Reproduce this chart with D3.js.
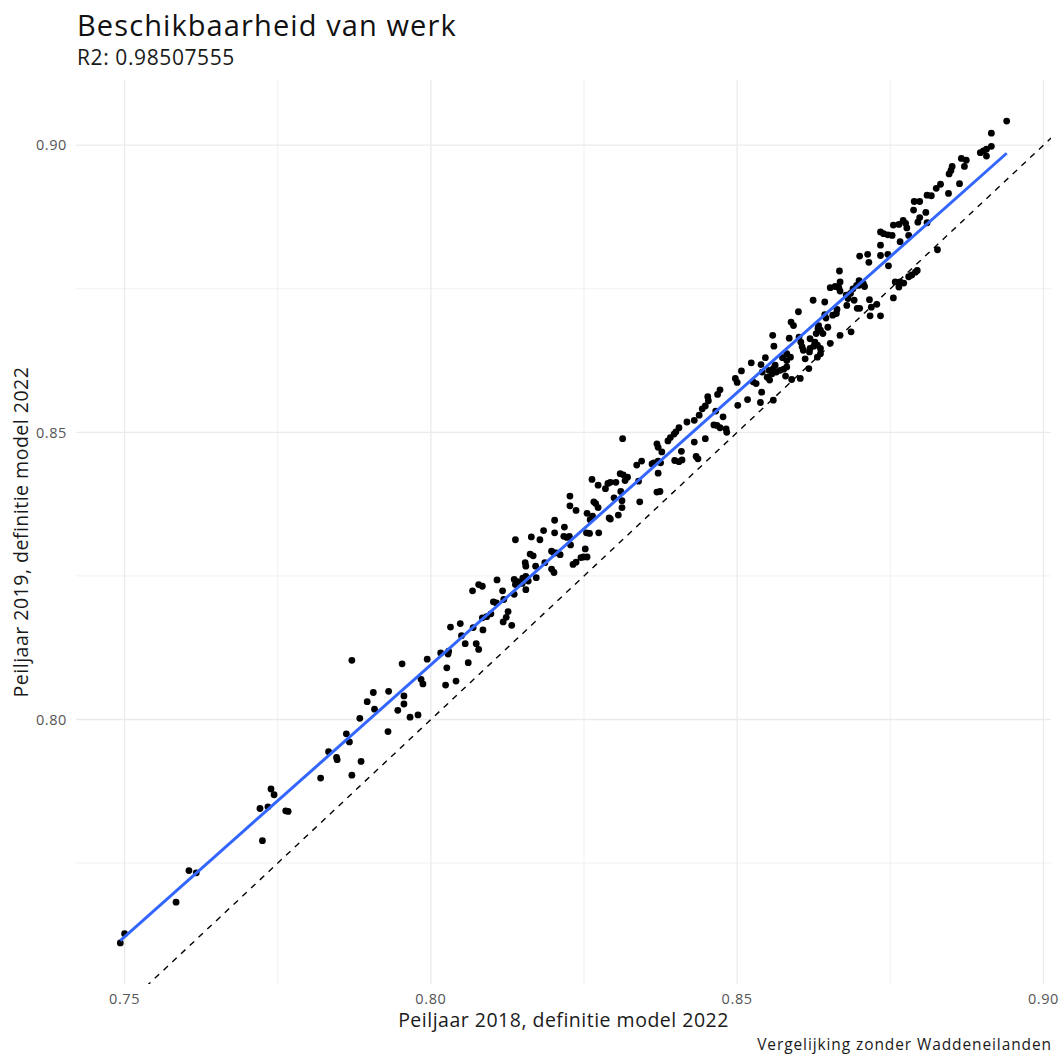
<!DOCTYPE html>
<html>
<head>
<meta charset="utf-8">
<script src="https://cdn.jsdelivr.net/npm/d3@7"></script>
<style>
  body { margin: 0; background: #fff; }
  text { font-family: "Open Sans", "DejaVu Sans", sans-serif; }
</style>
</head>
<body>
<svg id="chart" width="1062" height="1055"></svg>
<script>
// Peiljaar 2018 (x) en Peiljaar 2019 (y), definitie model 2022
const peil2018 = [
  0.7493,0.7500,0.7584,0.7605,0.7617,0.7725,0.7721,0.7734,0.7739,0.7744,
  0.7763,0.7767,0.7820,0.7833,0.7846,0.7847,0.7862,0.7867,0.7871,0.7886,
  0.7884,0.7871,0.7896,0.7906,0.7908,0.7930,0.7931,0.7946,0.7956,0.7956,
  0.7966,0.7979,0.7953,0.7984,0.7987,0.7994,0.8016,0.8028,0.8029,0.8026,
  0.8024,0.8041,0.8032,0.8048,0.8050,0.8056,0.8061,0.8069,0.8074,0.8078,
  0.8085,0.8084,0.8091,0.8098,0.8068,0.8078,0.8084,0.8108,0.8117,0.8102,
  0.8107,0.8119,0.8126,0.8123,0.8118,0.8132,0.8136,0.8141,0.8138,0.8150,
  0.8155,0.8159,0.8149,0.8172,0.8155,0.8136,0.8154,0.8155,0.8162,0.8167,
  0.8171,0.8186,0.8138,0.8164,0.8178,0.8184,0.8202,0.8202,0.8218,0.8217,
  0.8222,0.8226,0.8197,0.8201,0.8205,0.8211,0.8228,0.8197,0.8201,0.8232,
  0.8237,0.8227,0.8237,0.8227,0.8245,0.8249,0.8255,0.8252,0.8254,0.8259,
  0.8274,0.8255,0.8260,0.8264,0.8266,0.8269,0.8273,0.8263,0.8273,0.8285,
  0.8289,0.8293,0.8302,0.8299,0.8291,0.8293,0.8306,0.8312,0.8312,0.8310,
  0.8317,0.8321,0.8309,0.8314,0.8313,0.8339,0.8336,0.8344,0.8341,0.8361,
  0.8364,0.8371,0.8375,0.8371,0.8369,0.8374,0.8369,0.8371,0.8377,0.8387,
  0.8391,0.8397,0.8400,0.8405,0.8409,0.8410,0.8398,0.8405,0.8430,0.8433,
  0.8436,0.8418,0.8430,0.8438,0.8443,0.8448,0.8453,0.8452,0.8465,0.8462,
  0.8467,0.8472,0.8482,0.8483,0.8477,0.8468,0.8472,0.8448,0.8497,0.8500,
  0.8507,0.8501,0.8517,0.8526,0.8531,0.8538,0.8540,0.8523,0.8539,0.8546,
  0.8560,0.8552,0.8557,0.8564,0.8570,0.8576,0.8581,0.8581,0.8587,0.8559,
  0.8579,0.8541,0.8553,0.8549,0.8559,0.8562,0.8558,0.8574,0.8581,0.8588,
  0.8592,0.8600,0.8585,0.8601,0.8604,0.8606,0.8608,0.8589,0.8603,0.8617,
  0.8611,0.8618,0.8619,0.8625,0.8627,0.8619,0.8629,0.8632,0.8633,0.8636,
  0.8640,0.8631,0.8636,0.8624,0.8643,0.8645,0.8631,0.8636,0.8643,0.8648,
  0.8652,0.8668,0.8662,0.8663,0.8652,0.8660,0.8666,0.8668,0.8679,0.8681,
  0.8686,0.8691,0.8696,0.8678,0.8685,0.8656,0.8668,0.8667,0.8689,0.8695,
  0.8699,0.8706,0.8708,0.8700,0.8716,0.8719,0.8728,0.8734,0.8717,0.8700,
  0.8713,0.8715,0.8699,0.8734,0.8739,0.8746,0.8753,0.8734,0.8734,0.8746,
  0.8747,0.8755,0.8764,0.8771,0.8775,0.8777,0.8780,0.8766,0.8758,0.8766,
  0.8772,0.8755,0.8764,0.8780,0.8785,0.8791,0.8794,0.8788,0.8789,0.8798,
  0.8808,0.8795,0.8798,0.8810,0.8940,0.8915,0.8915,0.8897,0.8902,0.8907,
  0.8907,0.8866,0.8874,0.8871,0.8851,0.8849,0.8846,0.8863,0.8832,0.8825,
  0.8845,0.8810,0.8817,0.8827
];
const peil2019 = [
  0.7611,0.7627,0.7682,0.7737,0.7733,0.7789,0.7845,0.7848,0.7879,0.7869,
  0.7841,0.7840,0.7898,0.7944,0.7934,0.7930,0.7975,0.7961,0.7903,0.7927,
  0.8002,0.8103,0.8031,0.8047,0.8018,0.7979,0.8049,0.8016,0.8041,0.8027,
  0.8004,0.8008,0.8097,0.8070,0.8062,0.8105,0.8116,0.8114,0.8119,0.8090,
  0.8060,0.8067,0.8161,0.8167,0.8146,0.8132,0.8099,0.8160,0.8132,0.8122,
  0.8156,0.8177,0.8179,0.8184,0.8224,0.8235,0.8232,0.8243,0.8224,0.8205,
  0.8203,0.8209,0.8188,0.8178,0.8170,0.8164,0.8244,0.8240,0.8235,0.8246,
  0.8249,0.8241,0.8237,0.8247,0.8226,0.8218,0.8273,0.8267,0.8288,0.8285,
  0.8267,0.8273,0.8313,0.8318,0.8313,0.8329,0.8325,0.8347,0.8335,0.8319,
  0.8317,0.8319,0.8293,0.8290,0.8290,0.8287,0.8304,0.8262,0.8256,0.8270,
  0.8274,0.8372,0.8364,0.8389,0.8282,0.8283,0.8283,0.8297,0.8325,0.8324,
  0.8325,0.8359,0.8348,0.8354,0.8379,0.8376,0.8369,0.8418,0.8408,0.8402,
  0.8411,0.8413,0.8413,0.8386,0.8351,0.8349,0.8356,0.8369,0.8381,0.8397,
  0.8416,0.8422,0.8428,0.8426,0.8489,0.8415,0.8443,0.8450,0.8379,0.8445,
  0.8447,0.8450,0.8447,0.8429,0.8396,0.8397,0.8480,0.8474,0.8466,0.8485,
  0.8491,0.8497,0.8501,0.8508,0.8467,0.8452,0.8451,0.8449,0.8483,0.8458,
  0.8454,0.8518,0.8521,0.8530,0.8541,0.8546,0.8555,0.8562,0.8537,0.8513,
  0.8512,0.8508,0.8506,0.8500,0.8527,0.8566,0.8574,0.8489,0.8594,0.8587,
  0.8607,0.8547,0.8557,0.8588,0.8585,0.8552,0.8570,0.8621,0.8618,0.8630,
  0.8650,0.8608,0.8602,0.8605,0.8608,0.8610,0.8614,0.8625,0.8631,0.8556,
  0.8598,0.8605,0.8591,0.8596,0.8611,0.8617,0.8669,0.8630,0.8637,0.8692,
  0.8686,0.8710,0.8664,0.8666,0.8657,0.8649,0.8643,0.8592,0.8594,0.8611,
  0.8628,0.8640,0.8646,0.8650,0.8657,0.8663,0.8672,0.8681,0.8686,0.8678,
  0.8672,0.8652,0.8646,0.8730,0.8705,0.8699,0.8631,0.8637,0.8727,0.8683,
  0.8655,0.8669,0.8707,0.8714,0.8752,0.8754,0.8752,0.8762,0.8721,0.8733,
  0.8675,0.8730,0.8716,0.8739,0.8742,0.8704,0.8746,0.8781,0.8750,0.8756,
  0.8756,0.8759,0.8754,0.8716,0.8731,0.8718,0.8723,0.8703,0.8703,0.8807,
  0.8810,0.8796,0.8764,0.8849,0.8846,0.8844,0.8843,0.8826,0.8808,0.8810,
  0.8790,0.8861,0.8862,0.8869,0.8864,0.8856,0.8843,0.8832,0.8762,0.8762,
  0.8760,0.8734,0.8753,0.8771,0.8774,0.8779,0.8782,0.8887,0.8902,0.8902,
  0.8883,0.8866,0.8874,0.8865,0.9042,0.9021,0.8998,0.8987,0.8990,0.8993,
  0.8981,0.8977,0.8974,0.8963,0.8963,0.8956,0.8950,0.8933,0.8932,0.8925,
  0.8916,0.8913,0.8912,0.8818
];

const fitX = [0.7493, 0.8940];
const fitY = [0.7615, 0.8986];

const xTicks = [0.75, 0.80, 0.85, 0.90];
const yTicks = [0.80, 0.85, 0.90];
const xMinor = [0.775, 0.825, 0.875];
const yMinor = [0.775, 0.825, 0.875];

const titleText = "Beschikbaarheid van werk";
const subtitleText = "R2: 0.98507555";
const xLabel = "Peiljaar 2018, definitie model 2022";
const yLabel = "Peiljaar 2019, definitie model 2022";
const captionText = "Vergelijking zonder Waddeneilanden";

let data = peil2018.map(function(d,i){ return {x:d, y:peil2019[i]}; });

let svg = d3.select("#chart");
let panel = {left:76, right:1051, top:80, bottom:984};

// ggplot-achtige 5% uitbreiding
function expand(ext){
  let pad = (ext[1]-ext[0])*0.05;
  return [ext[0]-pad, ext[1]+pad];
}
let xLim = expand(d3.extent(peil2018));
let yLim = expand(d3.extent(peil2019));

let xScale = d3.scaleLinear().domain(xLim).range([panel.left, panel.right]);
let yScale = d3.scaleLinear().domain(yLim).range([panel.bottom, panel.top]);

svg.append("rect").attr("width",1062).attr("height",1055).attr("fill","#fff");

svg.append("clipPath").attr("id","clip")
  .append("rect")
  .attr("x",panel.left).attr("y",panel.top)
  .attr("width",panel.right-panel.left).attr("height",panel.bottom-panel.top);

let grid = svg.append("g");
grid.selectAll(".xminor").data(xMinor).enter().append("line")
  .attr("x1",d=>xScale(d)).attr("x2",d=>xScale(d))
  .attr("y1",panel.top).attr("y2",panel.bottom)
  .attr("stroke","#ebebeb").attr("stroke-width",0.7);
grid.selectAll(".yminor").data(yMinor).enter().append("line")
  .attr("y1",d=>yScale(d)).attr("y2",d=>yScale(d))
  .attr("x1",panel.left).attr("x2",panel.right)
  .attr("stroke","#ebebeb").attr("stroke-width",0.7);
grid.selectAll(".xmajor").data(xTicks).enter().append("line")
  .attr("x1",d=>xScale(d)).attr("x2",d=>xScale(d))
  .attr("y1",panel.top).attr("y2",panel.bottom)
  .attr("stroke","#ebebeb").attr("stroke-width",1.3);
grid.selectAll(".ymajor").data(yTicks).enter().append("line")
  .attr("y1",d=>yScale(d)).attr("y2",d=>yScale(d))
  .attr("x1",panel.left).attr("x2",panel.right)
  .attr("stroke","#ebebeb").attr("stroke-width",1.3);

// punten
svg.append("g").selectAll("circle")
  .data(data)
  .enter().append("circle")
  .attr("cx",d=>xScale(d.x))
  .attr("cy",d=>yScale(d.y))
  .attr("r",3.4)
  .attr("fill","#000");

// lijn y = x
let diag = d3.line().x(d=>xScale(d)).y(d=>yScale(d));
svg.append("path")
  .datum(xLim)
  .attr("clip-path","url(#clip)")
  .attr("d",diag)
  .attr("fill","none")
  .attr("stroke","#000")
  .attr("stroke-width",1.4)
  .attr("stroke-dasharray","6,6");

// regressielijn
let fitLine = d3.line().x(d=>xScale(d[0])).y(d=>yScale(d[1]));
svg.append("path")
  .datum(fitX.map((d,i)=>[d,fitY[i]]))
  .attr("d",fitLine)
  .attr("fill","none")
  .attr("stroke","#3366FF")
  .attr("stroke-width",3);

// as-labels
svg.append("g").selectAll("text")
  .data(xTicks).enter().append("text")
  .attr("x",d=>xScale(d)).attr("y",1004)
  .attr("text-anchor","middle")
  .attr("font-size",14.5).attr("letter-spacing",0.6).attr("fill","#555")
  .text(d=>d3.format(".2f")(d));
svg.append("g").selectAll("text")
  .data(yTicks).enter().append("text")
  .attr("x",67).attr("y",d=>yScale(d)).attr("dy","0.36em")
  .attr("text-anchor","end")
  .attr("font-size",14.5).attr("letter-spacing",0.6).attr("fill","#555")
  .text(d=>d3.format(".2f")(d));

svg.append("text")
  .attr("x",(panel.left+panel.right)/2).attr("y",1027)
  .attr("text-anchor","middle").attr("font-size",19.5).attr("letter-spacing",0.5)
  .attr("fill","#1a1a1a")
  .text(xLabel);
svg.append("text")
  .attr("transform","translate(28,"+((panel.top+panel.bottom)/2)+") rotate(-90)")
  .attr("text-anchor","middle").attr("font-size",19.5).attr("letter-spacing",0.5)
  .attr("fill","#1a1a1a")
  .text(yLabel);

svg.append("text").attr("x",77).attr("y",36)
  .attr("font-size",29).attr("letter-spacing",1.1).attr("fill","#111").text(titleText);
svg.append("text").attr("x",77).attr("y",65)
  .attr("font-size",21).attr("letter-spacing",0.6).attr("fill","#1a1a1a").text(subtitleText);
svg.append("text").attr("x",1052).attr("y",1050)
  .attr("text-anchor","end").attr("font-size",15.5).attr("letter-spacing",0.9)
  .attr("fill","#1a1a1a")
  .text(captionText);
</script>
</body>
</html>
